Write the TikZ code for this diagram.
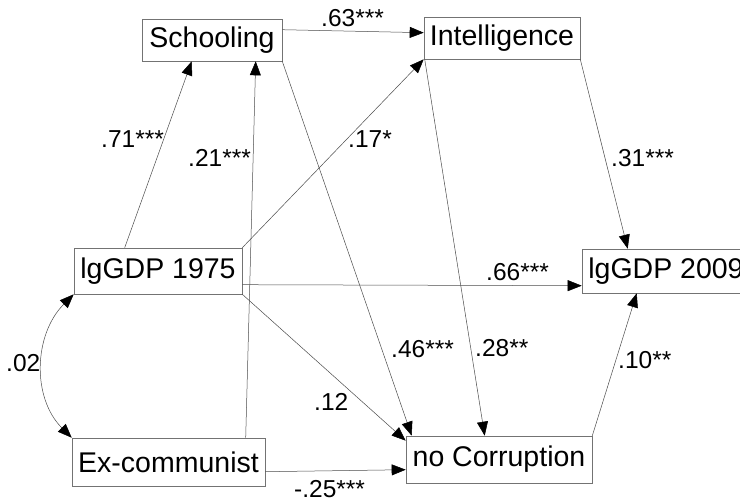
\documentclass[tikz,border=0pt]{standalone}
\usepackage{fontspec}
\setmainfont{Liberation Sans}
\usetikzlibrary{arrows.meta,calc}
\begin{document}
\begin{tikzpicture}[x=1pt,y=-1pt,
  box/.style={draw=black!55, line width=0.6pt, inner sep=0pt, font=\fontsize{28.5}{30}\selectfont},
  lab/.style={inner sep=0pt, anchor=base west, font=\fontsize{24.5}{26}\selectfont},
  path/.style={draw=black!70, line width=0.5pt, -{Triangle[length=14pt,width=11pt,black]}},
  cov/.style={draw=black!70, line width=0.5pt, {Triangle[length=14pt,width=11pt,black]}-{Triangle[length=14pt,width=11pt,black]}}]
\useasboundingbox (0,0) rectangle (740,498);
\clip (0,0) rectangle (740,498);
\fill[white] (0,0) rectangle (740,498);
% nodes
\node[box, minimum width=140pt, minimum height=42pt] (S) at (212,40) {Schooling};
\node[box, minimum width=156pt, minimum height=42pt] (I) at (502,38) {Intelligence};
\node[box, minimum width=168pt, minimum height=46pt] (G75) at (158,271) {lgGDP 1975};
\node[box, minimum width=193pt, minimum height=48pt] (EC) at (168.5,462) {Ex-communist};
\node[box, minimum width=168pt, minimum height=44pt] (G09) at (666,271) {lgGDP 2009};
\node[box, minimum width=186pt, minimum height=47pt] (NC) at (499,459.5) {no Corruption};
% connectors
\draw[path] ([yshift=-11pt]S.north east) -- ([yshift=-16pt]I.north west);
\draw[path] ([xshift=51pt]G75.north west) -- ([xshift=50pt]S.south west);
\draw[path] ([xshift=174pt]EC.north west) -- ([xshift=114pt]S.south west);
\draw[path] (G75.north east) -- (I.south west);
\draw[path] (S.south east) -- ([xshift=6pt]NC.north west);
\draw[path] ([xshift=1pt]I.south west) -- ([xshift=79pt]NC.north west);
\draw[path] (I.south east) -- ([xshift=46pt]G09.north west);
\draw[path] ([yshift=-37pt]G75.north east) -- ([yshift=-37pt]G09.north west);
\draw[path] (G75.south east) -- ([yshift=-5pt]NC.north west);
\draw[path] ([yshift=-34pt]EC.north east) -- ([yshift=-34pt]NC.north west);
\draw[path] (NC.north east) -- ([xshift=55pt]G09.south west);
\draw[cov] (G75.south west) .. controls +(-40,40) and +(-40,-40) .. (EC.north west);
% labels
\node[lab] (l63) at (321,26) {.63***};
\node[lab] (l71) at (101,147) {.71***};
\node[lab] (l21) at (188,166) {.21***};
\node[lab] (l17) at (348,147) {.17*};
\node[lab] (l31) at (611,166) {.31***};
\node[lab] (l66) at (486,280) {.66***};
\node[lab] (l46) at (391,357) {.46***};
\node[lab] (l28) at (475,356) {.28**};
\node[lab] (l10) at (618,368) {.10**};
\node[lab] (l12) at (314,410) {.12};
\node[lab] (l02) at (6,371) {.02};
\node[lab] (l25) at (294,497) {-.25***};
\end{tikzpicture}
\end{document}
